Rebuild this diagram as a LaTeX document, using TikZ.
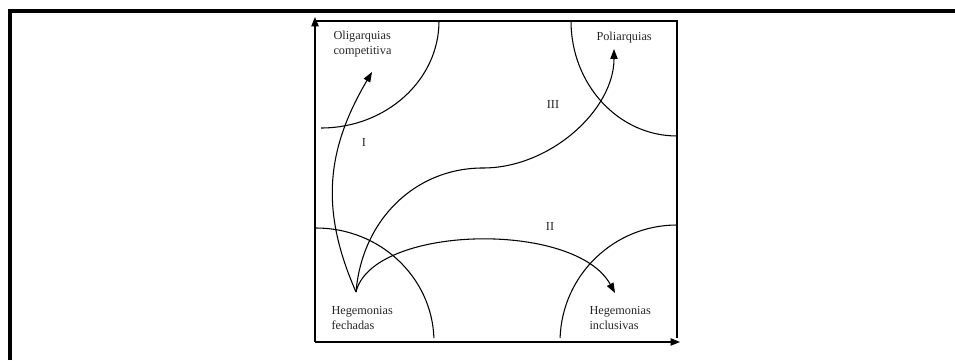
\documentclass[tikz,border=0pt]{standalone}
\usepackage{fontspec}
\setmainfont{Liberation Serif}
\usetikzlibrary{arrows.meta}
\tikzset{
  every picture/.style={line width=0.8pt},
  regime/.style={font=\fontsize{9.2}{11.25}\selectfont, text=black!85, align=left, inner sep=0pt, anchor=west},
  roman/.style={font=\fontsize{9.2}{11.25}\selectfont, text=black!85, inner sep=0pt},
  axis/.style={-{Triangle[length=7pt, width=5.5pt]}},
  arrow/.style={-{Triangle[length=7.5pt, width=5.5pt]}},
}

\begin{document}
\begin{tikzpicture}[x=0.75pt, y=0.75pt]
  \useasboundingbox (0,0) rectangle (955,360);
  % frame
  \draw[line width=3pt] (10,0) -- (10,349) -- (955,349);
  % axes and box
  \coordinate (o) at (315,18);
  \coordinate (ytop) at (315,343);
  \coordinate (xend) at (680,18);
  \draw[axis] (o) -- (ytop);
  \draw[axis] (o) -- (xend);
  \draw (315,339) -- (677,339) -- (677,22);
  % corner arcs
  \draw (321,232) arc[start angle=270, end angle=360, x radius=118, y radius=107];
  \draw (571,339) arc[start angle=180, end angle=270, x radius=106, y radius=115];
  \draw (316,132) arc[start angle=90, end angle=2, x radius=118, y radius=114];
  \draw (677,135) arc[start angle=90, end angle=178, x radius=117, y radius=117];
  % labels
  \node[regime] (oligtxt) at (333,315.5) {Oligarquias\\competitiva};
  \node[regime] (politxt) at (596,322) {Poliarquias};
  \node[regime] (fechtxt) at (331,42.5) {Hegemonias\\fechadas};
  \node[regime] (incltxt) at (589,42.5) {Hegemonias\\inclusivas};
  \node[roman] (r1) at (364,218) {I};
  \node[roman] (r2) at (550,134) {II};
  \node[roman] (r3) at (553,256) {III};
  % paths
  \coordinate (fech) at (356,68);
  \coordinate (olig) at (372,288);
  \coordinate (bend) at (483,192);
  \coordinate (poli) at (614,311);
  \coordinate (incl) at (615,67);
  \draw[arrow] (fech) .. controls (320,150) and (326,210) .. (olig);
  \draw[arrow] (fech) .. controls (362,140) and (415,192) .. (bend)
    .. controls (550,192) and (614,250) .. (poli);
  \draw[arrow] (fech) .. controls (372,135) and (575,140) .. (incl);
\end{tikzpicture}
\end{document}
